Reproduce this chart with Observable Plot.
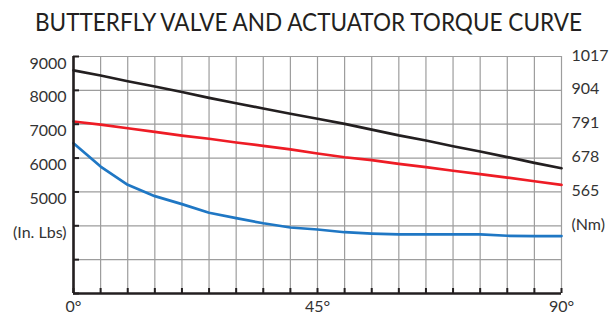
<!DOCTYPE html>
<html><head><meta charset="utf-8">
<script src="https://cdn.jsdelivr.net/npm/d3@7"></script>
<script src="https://cdn.jsdelivr.net/npm/@observablehq/plot@0.6"></script>
<style>
body{margin:0;background:#fff;}
#title{height:45px;font-family:Lato,sans-serif;font-size:25px;color:#231f20;white-space:nowrap;position:relative;overflow:visible}
#title span{position:absolute;left:35px;top:6px;transform-origin:0 0}
#chart svg{display:block}
</style></head><body>
<div id="title"><span>BUTTERFLY VALVE AND ACTUATOR TORQUE CURVE</span></div>
<div id="chart"></div>
<script>
// Data (in-lbs), every 5 degrees
const angles = [0,5,10,15,20,25,30,35,40,45,50,55,60,65,70,75,80,85,90];
const blackTorque = [8590,8440,8270,8115,7950,7780,7620,7465,7310,7160,7010,6840,6670,6520,6350,6195,6030,5860,5700];
const redTorque   = [7080,6990,6880,6775,6665,6570,6460,6360,6255,6135,6025,5940,5830,5730,5625,5525,5425,5315,5210];
const blueTorque  = [6440,5750,5210,4875,4640,4385,4225,4075,3950,3890,3810,3770,3745,3745,3745,3745,3705,3695,3695];
// Axis ticks and labels
const gridY = [2000,3000,4000,5000,6000,7000,8000,9000];
const leftTicks = [4000,5000,6000,7000,8000,9000];
const leftLabels = ["(In. Lbs)","5000","6000","7000","8000","9000"];
const rightLabels = ["(Nm)","565","678","791","904","1017"];
const xLabelTicks = [0,45,90];
const xLabels = ["0°","45°","90°"];

const toRows = (vals) => angles.map((a,i) => ({angle:a, torque:vals[i]}));

const W=609, H=270, mT=11, mB=22, mL=73, mR=48;
const plotW = W-mL-mR, plotH = H-mT-mB;
const dark = "#231f20", grid = "#9d9d9d";

const chart = Plot.plot({
  width:W, height:H, marginTop:mT, marginBottom:mB, marginLeft:mL, marginRight:mR,
  x:{domain:[0,90]}, y:{domain:[2000,9000]},
  style:{fontFamily:"Lato, sans-serif", fontSize:"16px", color:"#333", background:"#fff", overflow:"visible"},
  marks:[
    Plot.ruleX(angles,{stroke:grid, strokeWidth:1.2}),
    Plot.ruleY(gridY,{stroke:grid, strokeWidth:1.2}),
    Plot.line(toRows(blueTorque),{x:"angle", y:"torque", stroke:"#1f77c4", strokeWidth:2.7}),
    Plot.line(toRows(redTorque),{x:"angle", y:"torque", stroke:"#ee1c25", strokeWidth:2.7}),
    Plot.line(toRows(blackTorque),{x:"angle", y:"torque", stroke:dark, strokeWidth:2.7}),
    Plot.ruleX(angles,{insetTop:plotH-5, stroke:dark, strokeWidth:2}),
    Plot.ruleY(gridY,{insetRight:plotW-6, stroke:dark, strokeWidth:2}),
    Plot.ruleX([0],{stroke:dark, strokeWidth:2.6}),
    Plot.ruleY([2000],{stroke:dark, strokeWidth:2.6}),
    Plot.axisY({anchor:"left", ticks:leftTicks, tickSize:0, tickPadding:7, dy:7, label:null,
      tickFormat:d => leftLabels[leftTicks.indexOf(d)]}),
    Plot.axisY({anchor:"right", ticks:leftTicks, tickSize:0, tickPadding:10, dy:-1, label:null,
      tickFormat:d => rightLabels[leftTicks.indexOf(d)]}),
    Plot.axisX({anchor:"bottom", ticks:xLabelTicks, tickSize:0, tickPadding:7, label:null,
      tickFormat:d => xLabels[xLabelTicks.indexOf(d)]})
  ]
});
document.getElementById("chart").appendChild(chart);
const span = document.querySelector("#title span");
const w = span.getBoundingClientRect().width;
span.style.transform = `scaleX(${547/w})`;
</script>
</body></html>
